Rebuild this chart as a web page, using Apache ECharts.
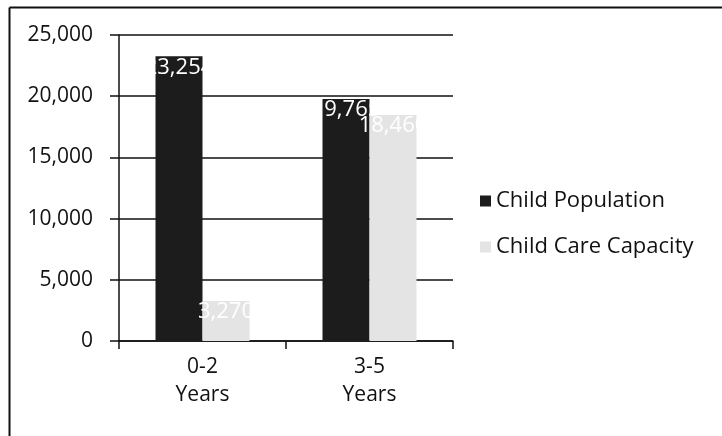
<!DOCTYPE html>
<html>
<head>
<meta charset="utf-8">
<script src="https://cdn.jsdelivr.net/npm/echarts@6/dist/echarts.min.js"></script>
<style>html,body{margin:0;padding:0;background:#fff;}#c{width:722px;height:436px;}</style>
</head>
<body>
<div id="c"></div>
<script>
var categories = ['0-2\nYears', '3-5\nYears'];
var childPopulation = [23254, 19765];
var childCareCapacity = [3270, 18460];
var yTicks = [0, 5000, 10000, 15000, 20000, 25000];

var chart = echarts.init(document.getElementById('c'));
var font = 'Open Sans';
var fmt = function (v) { return Number(v).toLocaleString('en-US'); };
chart.setOption({
  animation: false,
  backgroundColor: '#fff',
  graphic: [
    { type: 'line', shape: { x1: 9.5, y1: 7.5, x2: 722, y2: 7.5 }, style: { stroke: '#111', lineWidth: 2 } },
    { type: 'line', shape: { x1: 9.5, y1: 7.5, x2: 9.5, y2: 436 }, style: { stroke: '#111', lineWidth: 2 } }
  ],
  grid: { left: 119, right: 269, top: 35, bottom: 95, containLabel: false },
  legend: {
    orient: 'vertical', left: 475, top: 185, itemGap: 24, itemWidth: 11, itemHeight: 11,
    icon: 'rect',
    textStyle: { fontFamily: font, fontSize: 22, color: '#111' },
    data: ['Child Population', 'Child Care Capacity']
  },
  xAxis: {
    type: 'category', data: categories,
    axisLine: { lineStyle: { color: '#111', width: 1.5 } },
    axisTick: { show: true, length: 8, lineStyle: { color: '#111', width: 1.5 } },
    axisLabel: { fontFamily: font, fontSize: 21, color: '#111', lineHeight: 28, margin: 12 }
  },
  yAxis: {
    type: 'value', min: 0, max: 25000, interval: 5000,
    axisLine: { show: true, lineStyle: { color: '#111', width: 1.5 } },
    axisTick: { show: true, length: 9, lineStyle: { color: '#111', width: 1.5 } },
    splitLine: { lineStyle: { color: '#111', width: 1.5 } },
    axisLabel: { fontFamily: font, fontSize: 21, color: '#111', margin: 26, formatter: fmt }
  },
  series: [
    {
      name: 'Child Population', type: 'bar', data: childPopulation,
      barWidth: 47, barGap: '0%',
      itemStyle: { color: '#1c1c1c' },
      label: { show: true, position: 'insideTop', distance: 0, color: '#fff', fontFamily: font, fontSize: 22, formatter: function (p) { return fmt(p.value); } }
    },
    {
      name: 'Child Care Capacity', type: 'bar', data: childCareCapacity,
      barWidth: 47,
      itemStyle: { color: '#e4e4e4' },
      label: { show: true, position: 'insideTop', distance: 0, color: '#fff', fontFamily: font, fontSize: 22, formatter: function (p) { return fmt(p.value); } }
    }
  ]
});
</script>
</body>
</html>
